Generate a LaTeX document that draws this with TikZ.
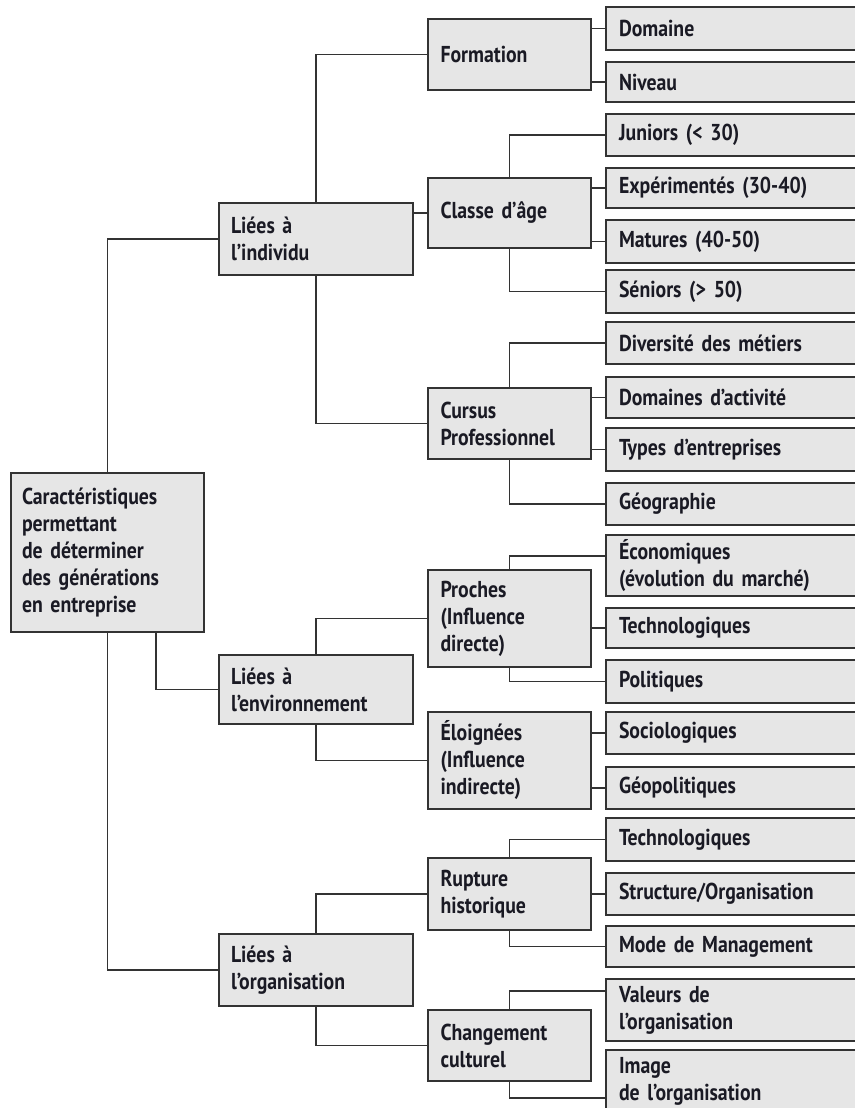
\documentclass[tikz,border=0pt]{standalone}
\usepackage{fontspec}
\newfontfamily\dfont{PT Sans}[FakeStretch=0.86]
\definecolor{boxfill}{HTML}{E6E6E6}
\definecolor{linec}{HTML}{333333}
\definecolor{textc}{HTML}{1A1A24}
\begin{document}
\begin{tikzpicture}[x=1pt,y=-1pt,
  basebox/.style={draw=linec, fill=boxfill, line width=1.3pt, inner ysep=0pt, text=textc,
    font=\dfont\bfseries\fontsize{23}{27}\selectfont, align=left, anchor=center},
  rootbox/.style={basebox, inner xsep=11pt, text width=171pt, minimum height=159pt},
  lvone/.style={basebox, inner xsep=12pt, text width=170pt},
  lvtwo/.style={basebox, inner xsep=12.5pt, text width=138pt},
  leafbox/.style={basebox, inner xsep=13pt, text width=248pt},
  conn/.style={draw=linec, line width=1.3pt}]
\useasboundingbox (0,0) rectangle (854,1108);

% root
\node[rootbox] (root) at (107.5,552.5) {Caractéristiques\\permettant\\de déterminer\\des générations\\en entreprise};

% level 1
\node[lvone, minimum height=72pt] (ind) at (316,239) {Liées à\\l’individu};
\node[lvone, minimum height=69pt] (env) at (316,689.5) {Liées à\\l’environnement};
\node[lvone, minimum height=72pt] (org) at (316,970) {Liées à\\l’organisation};

% level 2
\node[lvtwo, minimum height=71pt] (form) at (509.5,54.5) {Formation};
\node[lvtwo, minimum height=70pt] (classe) at (509.5,213) {Classe d’âge};
\node[lvtwo, minimum height=71pt] (cursus) at (509.5,423.5) {Cursus\\Professionnel};
\node[lvtwo, minimum height=97pt] (proches) at (509.5,618.5) {Proches\\(Influence\\directe)};
\node[lvtwo, minimum height=97pt] (eloig) at (509.5,760.5) {Éloignées\\(Influence\\indirecte)};
\node[lvtwo, minimum height=72pt] (rupture) at (509.5,894) {Rupture\\historique};
\node[lvtwo, minimum height=71pt] (chang) at (509.5,1045.5) {Changement\\culturel};

% leaves
\node[leafbox, minimum height=43pt] (domaine) at (743,28.5) {Domaine};
\node[leafbox, minimum height=40pt] (niveau) at (743,82) {Niveau};
\node[leafbox, minimum height=42pt] (juniors) at (743,135) {Juniors (< 30)};
\node[leafbox, minimum height=40pt] (exper) at (743,188) {Expérimentés (30-40)};
\node[leafbox, minimum height=43pt] (matures) at (743,241.5) {Matures (40-50)};
\node[leafbox, minimum height=43pt] (seniors) at (743,291.5) {Séniors (> 50)};
\node[leafbox, minimum height=42pt] (divers) at (743,343) {Diversité des métiers};
\node[leafbox, minimum height=41pt] (domact) at (743,397.5) {Domaines d’activité};
\node[leafbox, minimum height=43pt] (types) at (743,449.5) {Types d’entreprises};
\node[leafbox, minimum height=42pt] (geo) at (743,504) {Géographie};
\node[leafbox, minimum height=61pt] (eco) at (743,565.5) {Économiques\\(évolution du marché)};
\node[leafbox, minimum height=40pt] (techno) at (743,628) {Technologiques};
\node[leafbox, minimum height=43pt] (polit) at (743,681.5) {Politiques};
\node[leafbox, minimum height=42pt] (socio) at (743,733) {Sociologiques};
\node[leafbox, minimum height=42pt] (geopol) at (743,788) {Géopolitiques};
\node[leafbox, minimum height=43pt] (technob) at (743,839.5) {Technologiques};
\node[leafbox, minimum height=42pt] (struct) at (743,894) {Structure/Organisation};
\node[leafbox, minimum height=41pt] (mode) at (743,946.5) {Mode de Management};
\node[leafbox, minimum height=62pt] (valeurs) at (743,1010) {Valeurs de\\l’organisation};
\node[leafbox, minimum height=62pt] (image) at (743,1081) {Image\\de l’organisation};

% root connectors
\draw[conn] (root.north) |- (ind.west);
\draw[conn] ([xshift=48.5pt]root.south) |- (env.west);
\draw[conn] (root.south) |- (org.west);

% level 1 connectors
\draw[conn] (ind.north) |- (form.west);
\draw[conn] (classe.west) -- (classe.west -| ind.east);
\draw[conn] (ind.south) |- (cursus.west);
\draw[conn] (env.north) |- (proches.west);
\draw[conn] (env.south) |- (eloig.west);
\draw[conn] (org.north) |- (rupture.west);
\draw[conn] (org.south) |- (chang.west);

% level 2 connectors
\draw[conn] (domaine.west) -- (domaine.west -| form.east);
\draw[conn] (niveau.west) -- (niveau.west -| form.east);
\draw[conn] (classe.north) |- (juniors.west);
\draw[conn] (exper.west) -- (exper.west -| classe.east);
\draw[conn] (matures.west) -- (matures.west -| classe.east);
\draw[conn] (classe.south) |- (seniors.west);
\draw[conn] (cursus.north) |- (divers.west);
\draw[conn] (domact.west) -- (domact.west -| cursus.east);
\draw[conn] (types.west) -- (types.west -| cursus.east);
\draw[conn] (cursus.south) |- (geo.west);
\draw[conn] (proches.north) |- ([yshift=9.5pt]eco.west);
\draw[conn] (techno.west) -- (techno.west -| proches.east);
\draw[conn] (proches.south) |- (polit.west);
\draw[conn] (socio.west) -- (socio.west -| eloig.east);
\draw[conn] (geopol.west) -- (geopol.west -| eloig.east);
\draw[conn] (rupture.north) |- (technob.west);
\draw[conn] (struct.west) -- (struct.west -| rupture.east);
\draw[conn] (rupture.south) |- (mode.west);
\draw[conn] (chang.north) |- ([yshift=19pt]valeurs.west);
\draw[conn] (chang.south) |- ([yshift=-17pt]image.west);
\end{tikzpicture}
\end{document}
